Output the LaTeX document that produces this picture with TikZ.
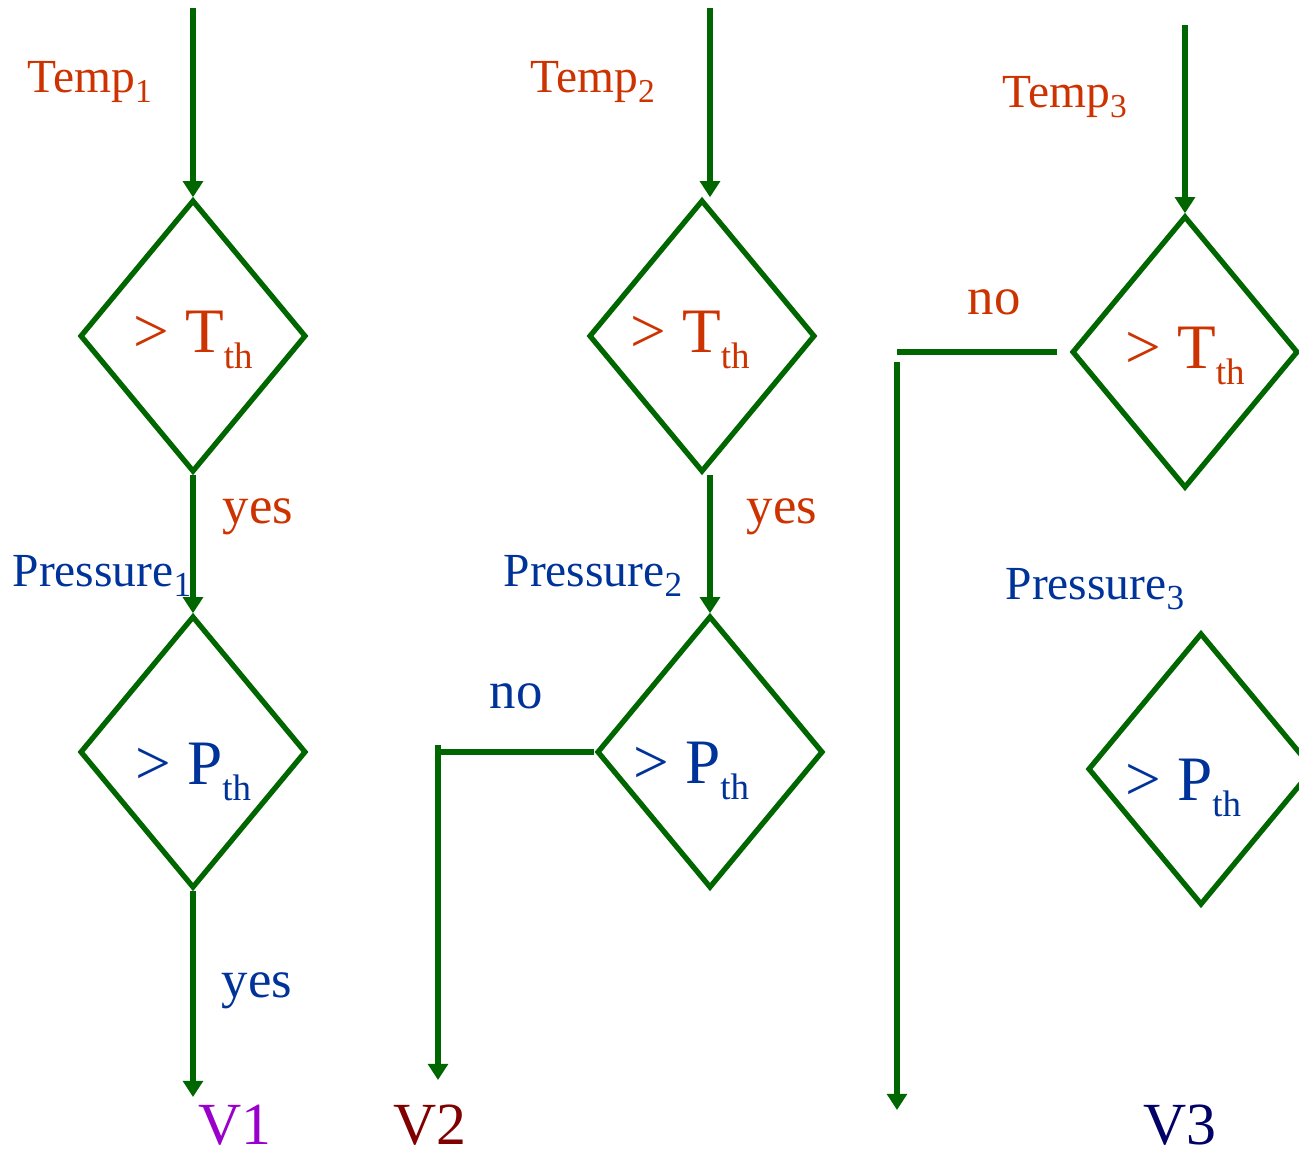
\documentclass[tikz,border=0pt]{standalone}
\usepackage{fontspec}
\setmainfont{Liberation Serif}
\usetikzlibrary{shapes.geometric,arrows.meta}

\definecolor{flowgreen}{RGB}{0,102,0}
\definecolor{tempred}{RGB}{204,51,0}
\definecolor{presblue}{RGB}{0,51,153}
\definecolor{vone}{RGB}{153,0,204}
\definecolor{vtwo}{RGB}{128,0,0}
\definecolor{vthree}{RGB}{0,0,102}

% lowered subscript: drop, size, text
\newcommand{\lowsub}[3]{\raisebox{-#1}{\fontsize{#2}{#2}\selectfont #3}}

\tikzset{
  decision/.style={diamond, draw=flowgreen, line width=1.5pt,
    minimum width=2.26cm, minimum height=2.72cm, inner sep=0pt},
  flow/.style={draw=flowgreen, line width=1.5pt},
  arr/.style={flow, -{Triangle[length=4.6pt,width=5.6pt]}},
  lbl/.style={anchor=base west, inner sep=0pt},
  templbl/.style={lbl, text=tempred, font=\fontsize{13.5}{15}\selectfont},
  preslbl/.style={lbl, text=presblue, font=\fontsize{13.5}{15}\selectfont},
  answer/.style={lbl, font=\fontsize{15}{17}\selectfont},
  test/.style={lbl, font=\fontsize{18}{20}\selectfont},
  outlbl/.style={lbl, font=\fontsize{17}{19}\selectfont}
}

\begin{document}
\begin{tikzpicture}[x=0.01cm, y=-0.01cm]
    \useasboundingbox (0,0) rectangle (1299,1151);
    \clip (0,0) rectangle (1299,1151);

    % Decision diamonds
    \node[decision] (t1) at (193,336) {};
    \node[decision] (p1) at (193,752) {};
    \node[decision] (t2) at (702,336) {};
    \node[decision] (p2) at (710,752) {};
    \node[decision] (t3) at (1185,352) {};
    \node[decision] (p3) at (1201,769) {};

    % Thresholds inside the diamonds
    \node[test, text=tempred] (t1txt) at (133,352) {> T\lowsub{4.6pt}{10.5}{th}};
    \node[test, text=tempred] (t2txt) at (630,352) {> T\lowsub{4.6pt}{10.5}{th}};
    \node[test, text=tempred] (t3txt) at (1125,368) {> T\lowsub{4.6pt}{10.5}{th}};
    \node[test, text=presblue] (p1txt) at (135,784) {> P\lowsub{4.6pt}{10.5}{th}};
    \node[test, text=presblue] (p2txt) at (633,783) {> P\lowsub{4.6pt}{10.5}{th}};
    \node[test, text=presblue] (p3txt) at (1125,800) {> P\lowsub{4.6pt}{10.5}{th}};

    % Input labels
    \foreach \i/\x/\y in {1/27/92, 2/530/92, 3/1002/107} {
        \node[templbl] (temp\i) at (\x,\y) {Temp\lowsub{3pt}{9.5}{\i}};
    }
    \foreach \i/\x/\y in {1/12/586, 2/503/586, 3/1005/599} {
        \node[preslbl] (pres\i) at (\x,\y) {Pressure\lowsub{3pt}{10}{\i}};
    }

    % Answers
    \node[answer, text=tempred] (yes1) at (222,523) {yes};
    \node[answer, text=tempred] (yes2) at (746,523) {yes};
    \node[answer, text=presblue] (yes3) at (221,997) {yes};
    \node[answer, text=presblue] (no2) at (489,708) {no};
    \node[answer, text=tempred] (no3) at (967,314) {no};

    % Outputs
    \node[outlbl, text=vone] (v1) at (198,1144) {V1};
    \node[outlbl, text=vtwo] (v2) at (393,1144) {V2};
    \node[outlbl, text=vthree] (v3) at (1143,1144) {V3};

    % Free ends of the connectors
    \coordinate (in1) at (193,8);
    \coordinate (in2) at (710,8);
    \coordinate (in3) at (1185,25);
    \coordinate (v1end) at (193,1097);
    \coordinate (n2a) at (438,752);
    \coordinate (n2b) at (438,745);
    \coordinate (v2end) at (438,1080);
    \coordinate (n3a) at (1057,352);
    \coordinate (n3b) at (897,352);
    \coordinate (n3c) at (897,362);
    \coordinate (v3end) at (897,1110);

    % Column 1
    \draw[arr] (in1) -- (t1);
    \draw[arr] (t1) -- (p1);
    \draw[arr] (p1) -- (v1end);

    % Column 2
    \draw[arr] (in2) -- (in2 |- t2.north);
    \draw[arr] (p2.north |- t2.south) -- (p2);
    \draw[flow] (p2.west) -- (n2a);
    \draw[arr] (n2b) -- (v2end);

    % Column 3
    \draw[arr] (in3) -- (t3);
    \draw[flow] (n3a) -- (n3b);
    \draw[arr] (n3c) -- (v3end);
\end{tikzpicture}
\end{document}
